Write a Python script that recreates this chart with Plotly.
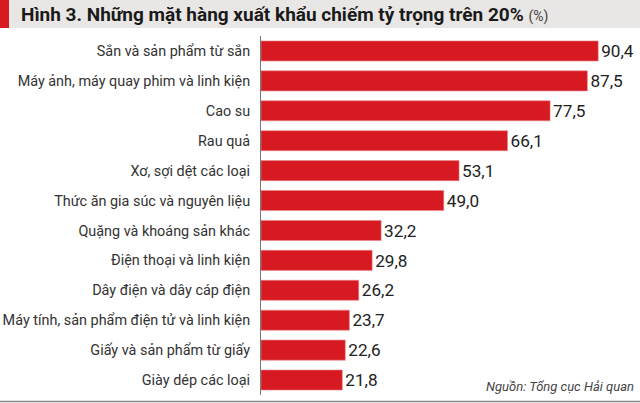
import plotly.graph_objects as go

categories = [
    "Sắn và sản phẩm từ sắn",
    "Máy ảnh, máy quay phim và linh kiện",
    "Cao su",
    "Rau quả",
    "Xơ, sợi dệt các loại",
    "Thức ăn gia súc và nguyên liệu",
    "Quặng và khoáng sản khác",
    "Điện thoại và linh kiện",
    "Dây điện và dây cáp điện",
    "Máy tính, sản phẩm điện tử và linh kiện",
    "Giấy và sản phẩm từ giấy",
    "Giày dép các loại",
]
values = [90.4, 87.5, 77.5, 66.1, 53.1, 49.0, 32.2, 29.8, 26.2, 23.7, 22.6, 21.8]
value_labels = [f"{v:.1f}".replace(".", ",") for v in values]

W, H = 640, 403
ML, MR, MT, MB = 261, 0, 36, 8
PW, PH = W - ML - MR, H - MT - MB
PX_PER_UNIT = 3.73

def px(x):
    return (x - ML) / PW

def py(y):
    return (H - MB - y) / PH

RED = "#d71a21"
FONT = "Roboto"

fig = go.Figure(go.Bar(
    x=values, y=categories, orientation="h",
    marker=dict(color=RED, line=dict(color="#e8868a", width=0.6)),
    width=0.67,
    text=value_labels, textposition="outside", cliponaxis=False,
    textfont=dict(family=FONT, size=18, color="#222222"),
    hoverinfo="skip",
))

fig.update_layout(
    width=W, height=H,
    margin=dict(l=ML, r=MR, t=MT, b=MB, autoexpand=False),
    paper_bgcolor="white", plot_bgcolor="white",
    showlegend=False,
    font=dict(family=FONT, color="#333333"),
    xaxis=dict(range=[0, PW / PX_PER_UNIT], visible=False, fixedrange=True),
    yaxis=dict(
        autorange="reversed", showline=True, linecolor="#777777", linewidth=1,
        ticks="", showgrid=False, ticklabelstandoff=7, fixedrange=True,
        tickfont=dict(family=FONT, size=14.4, color="#333333"),
    ),
    shapes=[
        dict(type="rect", xref="paper", yref="paper", x0=px(0), x1=px(W), y0=py(28), y1=py(0),
             fillcolor="#e9e7e5", line=dict(width=0), layer="below"),
        dict(type="rect", xref="paper", yref="paper", x0=px(0), x1=px(9), y0=py(28), y1=py(0),
             fillcolor=RED, line=dict(width=0)),
        dict(type="line", xref="paper", yref="paper", x0=px(0), x1=px(W), y0=py(401.5), y1=py(401.5),
             line=dict(color="#888888", width=1.5)),
    ],
    annotations=[
        dict(xref="paper", yref="paper", x=px(19), y=py(14.5), xanchor="left", yanchor="middle",
             showarrow=False,
             text="<b>Hình 3. Những mặt hàng xuất khẩu chiếm tỷ trọng trên 20%</b> "
                  "<span style='font-size:14px;color:#444'>(%)</span>",
             font=dict(family=FONT, size=19, color="#1a1a1a")),
        dict(xref="paper", yref="paper", x=px(636), y=py(386), xanchor="right", yanchor="middle",
             showarrow=False, text="<i>Nguồn: Tổng cục Hải quan</i>",
             font=dict(family=FONT, size=13, color="#444444")),
    ],
)

fig.write_html("out.html", config={"displayModeBar": False},
               post_script="document.body.style.margin='0';")
